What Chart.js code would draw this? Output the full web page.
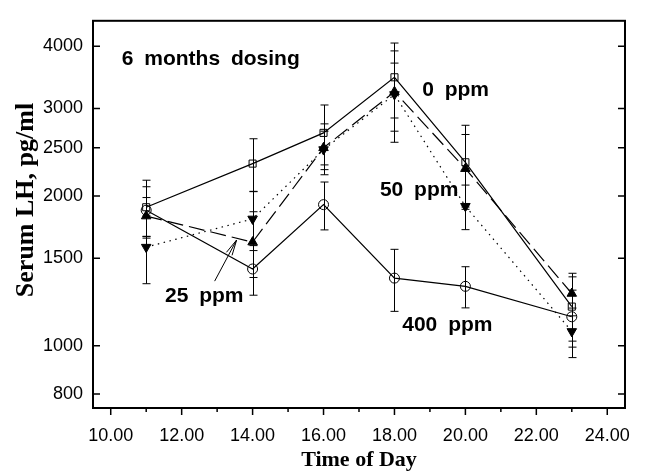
<!DOCTYPE html>
<html>
<head>
<meta charset="utf-8">
<script src="https://cdn.jsdelivr.net/npm/chart.js@4.4.0/dist/chart.umd.min.js"></script>
<style>
  html, body { margin: 0; padding: 0; background: #fff; }
  #wrap { width: 647px; height: 474px; }
</style>
</head>
<body>
<div id="wrap"><canvas id="lhChart" width="647" height="474"></canvas></div>
<script>
// sampling times (hour of day)
const hours = [11, 14, 16, 18, 20, 23];

// serum LH means (pg/ml) and error bar half widths
const lh0 = [1899, 2324, 2679, 3465, 2338, 1199];
const lh0Err = [253, 283, 369, 595, 437, 177];
const lh25 = [1823, 1616, 2500, 3240, 2270, 1274];
const lh25Err = [163, 244, 293, 675, 389, 125];
const lh50 = [1579, 1799, 2480, 3200, 1908, 1069];
const lh50Err = [246, 245, 220, 500, 196, 122];
const lh400 = [1873, 1427, 1922, 1368, 1317, 1144];
const lh400Err = [215, 163, 212, 195, 125, 150];

const xTicks = [10, 12, 14, 16, 18, 20, 22, 24];
const xMinorTicks = [11, 13, 15, 17, 19, 21, 23];
const yTicks = [800, 1000, 1500, 2000, 2500, 3000, 4000];

// text notes placed in data units: [text, x, y, align, font size]
const notes = [
    ['6 months dosing', 10.31, 3768, 'left', 21],
    ['0 ppm', 18.78, 3259, 'left', 21],
    ['50 ppm', 17.59, 2057, 'left', 21],
    ['25 ppm', 11.53, 1258, 'left', 21],
    ['400 ppm', 18.22, 1099, 'left', 21]
];
// arrow pointing from the "25 ppm" label to its line: tail, tip
const arrow25 = [[12.93, 1349], [13.55, 1632]];

const errors = [lh0Err, lh25Err, lh50Err, lh400Err];

function points(values) {
    return hours.map((h, i) => ({ x: h, y: values[i] }));
}

const seriesBase = {
    borderColor: '#000',
    borderWidth: 1.2,
    pointBorderColor: '#000',
    pointBorderWidth: 1,
    tension: 0,
    fill: false
};

// error bars, frame, tick marks and the text notes
const figureDecor = {
    id: 'figureDecor',
    beforeDatasetsDraw(chart) {
        const { ctx, scales: { x, y } } = chart;
        ctx.save();
        ctx.strokeStyle = '#000';
        ctx.lineWidth = 1;
        errors.forEach((errs, d) => {
            const vals = chart.data.datasets[d].data;
            vals.forEach((p, j) => {
                const px = Math.round(x.getPixelForValue(p.x)) + 0.5;
                const top = y.getPixelForValue(p.y + errs[j]);
                const bot = y.getPixelForValue(p.y - errs[j]);
                ctx.beginPath();
                ctx.moveTo(px, top);
                ctx.lineTo(px, bot);
                ctx.moveTo(px - 4, top);
                ctx.lineTo(px + 4, top);
                ctx.moveTo(px - 4, bot);
                ctx.lineTo(px + 4, bot);
                ctx.stroke();
            });
        });
        ctx.restore();
    },
    afterDraw(chart) {
        const { ctx, chartArea: a, scales: { x, y } } = chart;
        ctx.save();
        ctx.strokeStyle = '#000';
        ctx.lineWidth = 2;
        ctx.strokeRect(a.left, a.top, a.right - a.left, a.bottom - a.top);

        ctx.lineWidth = 1.5;
        ctx.beginPath();
        yTicks.forEach(v => {
            const py = y.getPixelForValue(v);
            ctx.moveTo(a.left, py);
            ctx.lineTo(a.left + 7, py);
            ctx.moveTo(a.right, py);
            ctx.lineTo(a.right - 7, py);
        });
        xTicks.forEach(v => {
            const px = x.getPixelForValue(v);
            ctx.moveTo(px, a.bottom);
            ctx.lineTo(px, a.bottom + 7);
        });
        xMinorTicks.forEach(v => {
            const px = x.getPixelForValue(v);
            ctx.moveTo(px, a.bottom);
            ctx.lineTo(px, a.bottom + 4);
        });
        ctx.stroke();

        // text notes
        ctx.fillStyle = '#000';
        ctx.textBaseline = 'middle';
        ctx.wordSpacing = '5px';
        notes.forEach(([text, nx, ny, align, size]) => {
            ctx.font = 'bold ' + size + 'px "Liberation Sans", Arial, sans-serif';
            ctx.textAlign = align;
            ctx.fillText(text, x.getPixelForValue(nx), y.getPixelForValue(ny));
        });
        ctx.wordSpacing = '0px';

        // arrow for 25 ppm
        const tx = x.getPixelForValue(arrow25[0][0]), ty = y.getPixelForValue(arrow25[0][1]);
        const hx = x.getPixelForValue(arrow25[1][0]), hy = y.getPixelForValue(arrow25[1][1]);
        const ang = Math.atan2(ty - hy, tx - hx);
        ctx.lineWidth = 1;
        ctx.beginPath();
        ctx.moveTo(tx, ty);
        ctx.lineTo(hx, hy);
        [-0.2, 0.2].forEach(da => {
            ctx.moveTo(hx, hy);
            ctx.lineTo(hx + Math.cos(ang + da) * 16, hy + Math.sin(ang + da) * 16);
        });
        ctx.stroke();

        // y axis title
        ctx.translate(26, 200);
        ctx.rotate(-Math.PI / 2);
        ctx.textAlign = 'center';
        ctx.font = 'bold 26px "Liberation Serif", "Times New Roman", serif';
        ctx.fillText('Serum LH, pg/ml', 0, 0);
        ctx.restore();
    }
};

new Chart(document.getElementById('lhChart'), {
    type: 'line',
    data: {
        datasets: [
            Object.assign({}, seriesBase, {
                label: '0 ppm', data: points(lh0),
                pointStyle: 'rect', pointRadius: 5,
                pointBackgroundColor: 'rgba(0,0,0,0)'
            }),
            Object.assign({}, seriesBase, {
                label: '25 ppm', data: points(lh25),
                borderDash: [16, 6],
                pointStyle: 'triangle', pointRadius: 5.5,
                pointBackgroundColor: '#000'
            }),
            Object.assign({}, seriesBase, {
                label: '50 ppm', data: points(lh50),
                borderDash: [1.5, 4.5],
                pointStyle: 'triangle', pointRotation: 180, pointRadius: 5.5,
                pointBackgroundColor: '#000'
            }),
            Object.assign({}, seriesBase, {
                label: '400 ppm', data: points(lh400),
                pointStyle: 'circle', pointRadius: 5,
                pointBackgroundColor: 'rgba(0,0,0,0)'
            })
        ]
    },
    options: {
        responsive: false,
        animation: false,
        layout: { padding: { top: 12, right: 5, left: 0, bottom: 0 } },
        plugins: {
            legend: { display: false },
            tooltip: { enabled: false }
        },
        scales: {
            x: {
                type: 'linear',
                min: 9.5,
                max: 24.5,
                afterBuildTicks: s => { s.ticks = xTicks.map(v => ({ value: v })); },
                afterFit: s => { s.height = 66; },
                grid: { display: false, drawTicks: false },
                border: { display: false },
                ticks: {
                    padding: 17,
                    color: '#000',
                    maxRotation: 0,
                    autoSkip: false,
                    font: { family: '"Liberation Sans", Arial, sans-serif', size: 18 },
                    callback: v => Number(v).toFixed(2)
                },
                title: {
                    display: true,
                    text: 'Time of Day',
                    color: '#000',
                    padding: { top: 0, bottom: 0 },
                    font: { family: '"Liberation Serif", "Times New Roman", serif', size: 22, weight: 'bold' }
                }
            },
            y: {
                type: 'logarithmic',
                min: 750,
                max: 4500,
                afterBuildTicks: s => { s.ticks = yTicks.map(v => ({ value: v })); },
                afterFit: s => { s.width = 93; },
                grid: { display: false, drawTicks: false },
                border: { display: false },
                ticks: {
                    padding: 10,
                    color: '#000',
                    font: { family: '"Liberation Sans", Arial, sans-serif', size: 18 },
                    callback: v => String(v)
                }
            }
        }
    },
    plugins: [figureDecor]
});
</script>
</body>
</html>
